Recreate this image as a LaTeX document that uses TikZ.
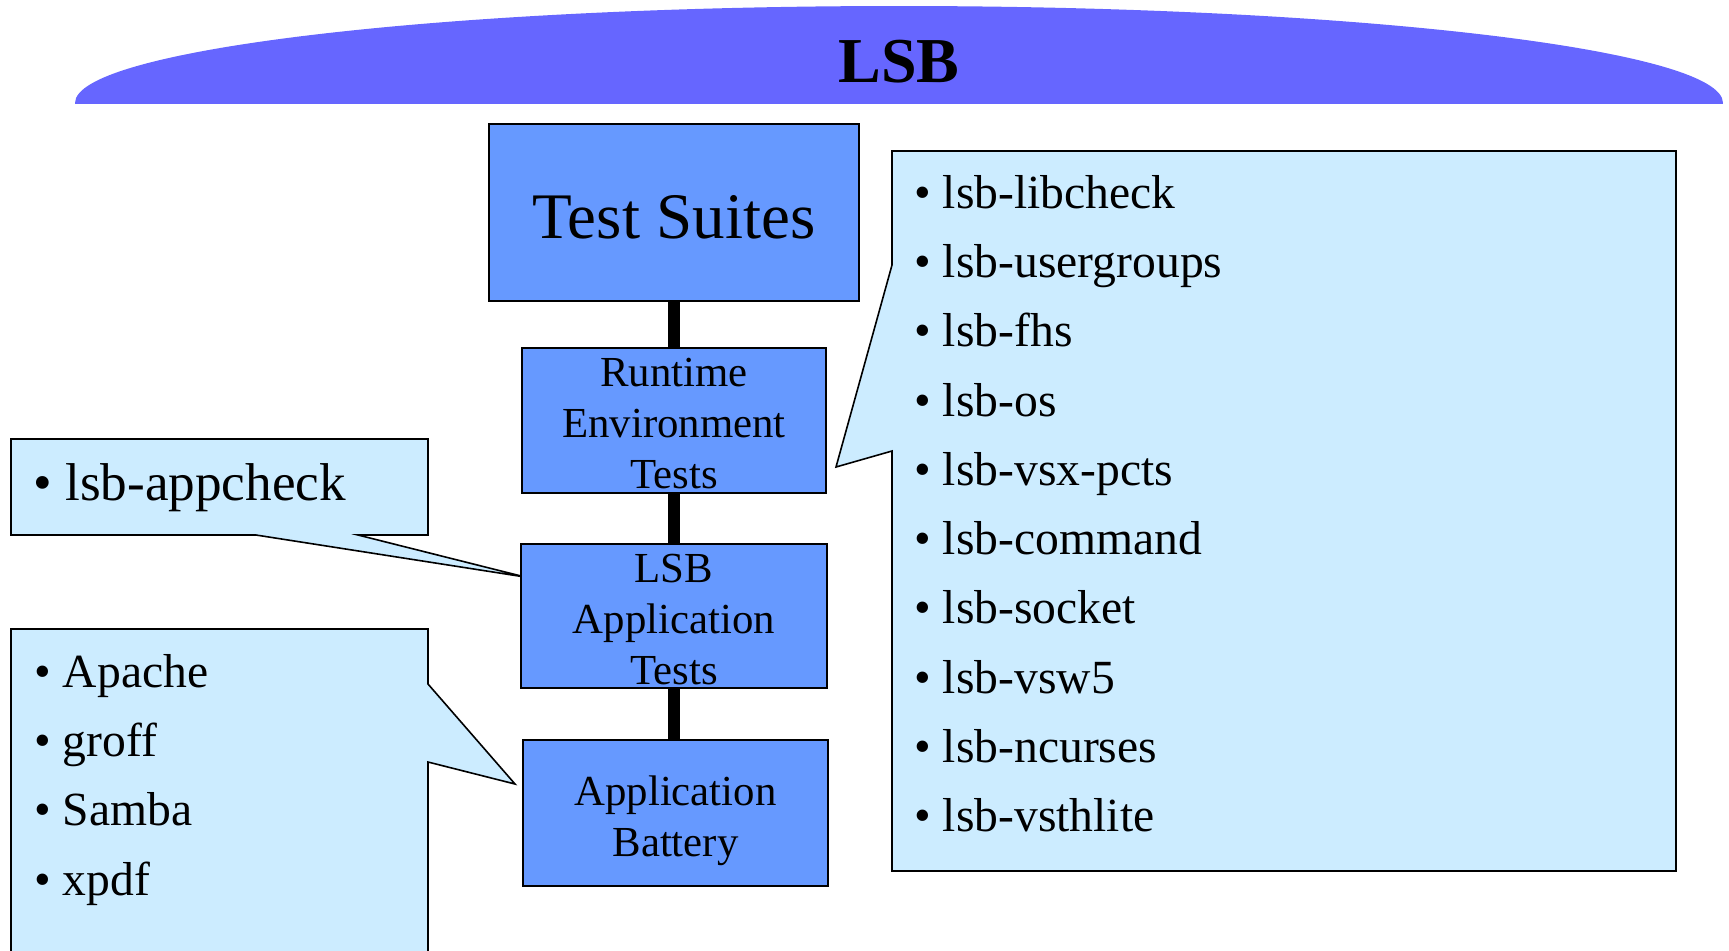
\documentclass[tikz,border=0pt]{standalone}
\usepackage{fontspec}
\setmainfont{Liberation Serif}
\usepackage{tikz}
\usepackage{xcolor}

\definecolor{titleblue}{HTML}{6666FF}
\definecolor{boxblue}{HTML}{6699FF}
\definecolor{noteblue}{HTML}{CCECFF}

\tikzset{
  box/.style={draw=black, line width=1pt, fill=boxblue, inner sep=0pt},
  boxtext/.style={align=center, inner sep=0pt, font=\fontsize{21.4}{25.5}\selectfont},
  note/.style={draw=black, line width=0.8pt, fill=noteblue},
  item/.style={anchor=base west, inner sep=0pt, font=\fontsize{23.8}{28}\selectfont},
  link/.style={line width=6pt, black}
}

\begin{document}
\begin{tikzpicture}[x=0.5pt, y=-0.5pt]
                \useasboundingbox (0,0) rectangle (1729,950);
                \clip (0,0) rectangle (1729,950);
                % title band
                \begin{scope}
                  \clip (0,0) rectangle (1729,103);
                  \fill[titleblue] (899,103) ellipse (824 and 97);
                \end{scope}
                \node[inner sep=0pt, font=\fontsize{32}{36}\selectfont\bfseries] (lsb) at (899,62) {LSB};
                % callouts
                \draw[note] (892,151) -- (1676,151) -- (1676,871) -- (892,871) -- (892,451)
                    -- (836,467) -- (892,265) -- cycle;
                \draw[note] (11,439) -- (428,439) -- (428,535) -- (358,535) -- (525,577)
                    -- (256,535) -- (11,535) -- cycle;
                \draw[note] (11,629) -- (428,629) -- (428,684) -- (515,784) -- (428,762)
                    -- (428,960) -- (11,960) -- cycle;
                % boxes
                \node[box, minimum width=185pt, minimum height=88.5pt] (suites) at (674,212.5) {};
                \node[box, minimum width=152pt, minimum height=72.5pt] (runtime) at (674,420.5) {};
                \node[box, minimum width=153pt, minimum height=72pt] (appl) at (674,616) {};
                \node[box, minimum width=152.5pt, minimum height=73pt] (battery) at (675.5,813) {};
                \node[boxtext, font=\fontsize{32.5}{36}\selectfont] (suitestxt) at (674,217) {Test Suites};
                \node[boxtext] (runtimetxt) at (674,424) {Runtime\\Environment\\Tests};
                \node[boxtext] (appltxt) at (674,620) {LSB\\Application\\Tests};
                \node[boxtext] (batterytxt) at (675.5,821) {Application\\Battery};
                \draw[link] (suites.south) -- (runtime.north);
                \draw[link] (runtime.south) -- (appl.north);
                \draw[link] (appl.south) -- (battery.north-|appl.south);
                % lists
                \foreach \name [count=\i from 0] in {lsb-libcheck,lsb-usergroups,lsb-fhs,lsb-os,
                    lsb-vsx-pcts,lsb-command,lsb-socket,lsb-vsw5,lsb-ncurses,lsb-vsthlite}
                  \node[item] (rtitem\i) at (914,208.3+69.27*\i) {• \name};
                \node[item, font=\fontsize{26.6}{30}\selectfont] (appitem) at (33,500.7) {• lsb-appcheck};
                \foreach \name [count=\i from 0] in {Apache,groff,Samba,xpdf}
                  \node[item] (batitem\i) at (34,687.3+69.27*\i) {• \name};
            \end{tikzpicture}
\end{document}
